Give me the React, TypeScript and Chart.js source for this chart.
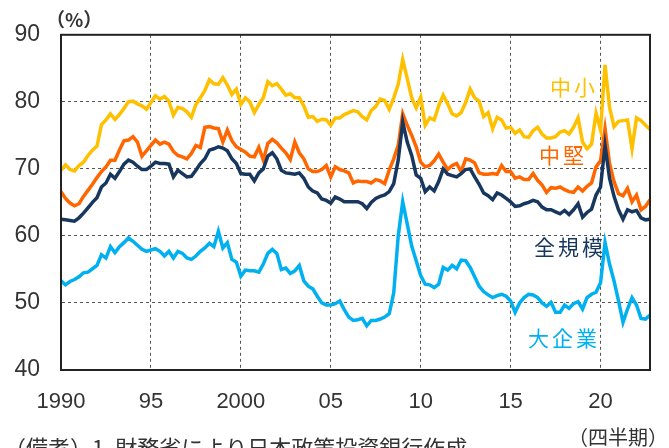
import React, { useEffect, useRef } from "react";
import { Chart, registerables } from "chart.js";

Chart.register(...registerables);

// Quarterly categories 1990Q1 .. 2022Q4
const years: number[] = [];
for (let y = 1990; y <= 2022; y++) years.push(y);
const quarters: string[] = [];
years.forEach((y) => ["Q1", "Q2", "Q3", "Q4"].forEach((q) => quarters.push(`${y}${q}`)));

const xTickLabels = ["1990", "95", "2000", "05", "10", "15", "20"];
const yTickValues = [40, 50, 60, 70, 80, 90];

const smeValues = [
  69.8, 70.6, 69.9, 69.7, 70.5, 71.0, 72.0, 72.8, 73.4, 76.6,
  77.3, 78.2, 77.4, 78.1, 79.0, 80.0, 80.1, 79.7, 79.4, 78.9,
  79.9, 80.9, 80.4, 80.8, 80.1, 78.0, 79.2, 79.0, 78.5, 77.7,
  79.6, 80.6, 81.7, 83.3, 82.7, 82.6, 83.6, 82.5, 81.1, 81.9,
  79.6, 80.6, 80.0, 78.4, 79.6, 80.6, 83.0, 82.4, 82.7, 81.9,
  81.0, 81.2, 80.6, 80.6, 79.4, 77.7, 77.8, 77.1, 77.4, 77.3,
  76.5, 77.6, 77.6, 78.1, 78.4, 78.7, 78.5, 77.8, 77.3, 78.7,
  79.3, 80.4, 80.2, 78.9, 80.6, 82.6, 86.3, 83.5, 80.6, 79.1,
  80.7, 76.5, 77.6, 77.3, 79.4, 81.0, 79.7, 78.2, 77.9, 78.4,
  79.9, 81.9, 80.6, 80.1, 77.8, 78.4, 76.0, 77.7, 77.3, 76.1,
  76.2, 75.3, 75.8, 74.8, 74.7, 75.7, 76.2, 75.2, 74.6, 74.6,
  74.8, 75.5, 75.7, 75.2, 76.2, 77.6, 74.0, 73.0, 73.7, 78.3,
  75.8, 85.5, 79.2, 76.3, 77.1, 77.2, 77.3, 73.0, 77.6, 77.2,
  76.5, 75.9,
];

const midValues = [
  66.6, 65.6, 64.9, 64.5, 64.8, 65.9, 66.8, 67.7, 68.7, 69.6,
  70.3, 71.3, 71.3, 72.8, 74.2, 74.3, 74.8, 74.0, 71.9, 72.7,
  73.5, 74.3, 73.7, 74.0, 73.7, 72.6, 72.0, 71.8, 71.5, 72.3,
  73.5, 73.2, 76.2, 76.3, 76.1, 76.0, 74.0, 75.8, 74.2, 73.3,
  72.9, 72.5, 71.9, 71.8, 73.2, 71.3, 73.8, 74.4, 73.9, 73.1,
  72.4, 71.4, 74.0, 72.4, 71.5, 70.0, 69.6, 69.6, 69.9, 70.5,
  68.8, 70.3, 69.9, 69.7, 69.4, 67.9, 68.2, 68.1, 68.1, 67.9,
  68.4, 68.2, 67.8, 69.8, 71.5, 73.5, 78.2, 76.5, 75.0, 73.3,
  71.0, 70.3, 70.5, 71.2, 72.2, 71.0, 69.9, 70.5, 70.8, 69.6,
  71.5, 71.3, 70.9, 69.4, 69.2, 69.2, 69.3, 69.2, 70.5, 69.6,
  69.6, 68.6, 68.8, 68.4, 68.4, 69.3, 68.3, 67.6, 66.5, 67.2,
  67.1, 67.3, 66.9, 66.6, 66.5, 67.3, 66.7, 67.4, 67.9, 70.3,
  71.2, 76.0, 70.8, 68.1, 66.3, 66.0, 67.1, 65.1, 66.1, 63.9,
  64.4, 65.4,
];

const allValues = [
  62.5, 62.4, 62.3, 62.2, 62.7, 63.4, 64.2, 65.0, 65.7, 67.3,
  67.9, 69.2, 68.6, 69.6, 70.7, 71.3, 71.0, 70.4, 69.9, 69.9,
  70.4, 71.0, 70.8, 70.8, 70.7, 68.8, 69.8, 69.3, 68.8, 68.9,
  69.8, 70.8, 71.5, 72.8, 73.0, 73.3, 73.1, 72.7, 71.5, 70.8,
  69.3, 69.2, 69.2, 68.2, 69.4, 70.0, 71.9, 72.4, 71.5, 69.8,
  69.4, 69.3, 69.2, 69.4, 68.6, 67.3, 66.7, 66.4, 65.5, 65.3,
  64.9, 65.8, 65.5, 65.1, 65.1, 65.1, 65.1, 64.8, 64.1, 65.0,
  65.6, 65.9, 66.1, 66.6, 67.8, 71.3, 77.0, 74.0, 72.0, 69.1,
  68.6, 66.6, 67.3, 66.7, 68.1, 70.0, 69.2, 69.0, 68.8, 69.3,
  69.9, 70.0, 68.8, 67.7, 66.4, 66.0, 65.4, 66.4, 66.1, 65.6,
  65.1, 64.4, 64.5, 64.8, 65.0, 65.3, 65.1, 64.3, 63.9, 63.9,
  63.6, 63.3, 63.8, 63.2, 63.9, 64.8, 62.8, 63.5, 64.0, 66.1,
  67.3, 73.5, 68.6, 65.9, 63.9, 62.5, 63.9, 63.6, 63.8, 62.7,
  62.4, 62.5,
];

const largeValues = [
  53.3, 52.7, 53.2, 53.5, 53.9, 54.5, 54.6, 55.1, 55.6, 57.2,
  56.7, 58.4, 57.5, 58.4, 59.0, 59.7, 59.2, 58.6, 58.0, 57.7,
  57.9, 58.1, 57.7, 57.0, 57.7, 56.7, 57.7, 57.4, 56.7, 56.5,
  57.0, 57.7, 58.2, 58.9, 58.4, 60.7, 58.2, 59.0, 56.5, 56.1,
  54.0, 54.9, 54.8, 54.8, 54.6, 55.8, 57.4, 58.0, 57.4, 55.0,
  55.2, 54.4, 54.8, 55.6, 53.3, 52.5, 52.1, 51.0, 50.0, 49.7,
  49.7, 49.9, 50.3, 49.0, 47.9, 47.4, 47.5, 47.7, 46.6, 47.4,
  47.4, 47.6, 47.9, 48.4, 51.5, 60.0, 65.1, 61.8, 58.5, 56.3,
  54.1, 52.8, 52.7, 52.3, 52.8, 55.3, 54.9, 55.6, 55.1, 56.4,
  56.3, 55.3, 53.9, 52.5, 51.7, 51.2, 50.8, 51.1, 51.3, 51.0,
  50.3, 48.6, 50.0, 50.8, 51.3, 51.2, 50.8, 50.0, 49.5, 50.1,
  48.6, 48.6, 49.7, 49.2, 49.9, 50.2, 49.1, 50.8, 51.3, 51.6,
  53.0, 59.0, 55.8, 53.3, 50.3, 47.1, 49.1, 50.8, 49.7, 47.7,
  47.6, 48.2,
];

const seriesNames = ["全規模", "中堅", "中小", "大企業"];
const seriesColors = ["#17375E", "#FF6600", "#FFC000", "#00B0F0"];

const NUM_FONT = "'Liberation Sans', Arial, sans-serif";
const JP_FONT = "'Noto Sans CJK JP', 'Noto Sans', sans-serif";

const overlayPlugin = {
  id: "overlay",
  afterDatasetsDraw(chart: any) {
    const { ctx, chartArea: a } = chart;
    ctx.save();
    ctx.strokeStyle = "#222";
    ctx.lineWidth = 2;
    ctx.strokeRect(a.left, a.top, a.right - a.left, a.bottom - a.top);

    ctx.textAlign = "center";
    ctx.textBaseline = "middle";
    ctx.font = `21px ${JP_FONT}`;
    try { (ctx as any).letterSpacing = "3px"; } catch (e) {}
    const labels: [string, string, number, number][] = [
      ["中小", seriesColors[2], 574, 87],
      ["中堅", seriesColors[1], 563, 155],
      ["全規模", seriesColors[0], 570, 247],
      ["大企業", seriesColors[3], 564, 338],
    ];
    labels.forEach(([t, c, x, y]) => {
      ctx.fillStyle = c;
      ctx.fillText(t, x, y);
    });
    try { (ctx as any).letterSpacing = "0px"; } catch (e) {}

    ctx.fillStyle = "#333";
    ctx.textAlign = "left";
    ctx.font = `bold 19px ${JP_FONT}`;
    ctx.fillText("（%）", 46, 20);

    ctx.textAlign = "right";
    ctx.font = `20px ${JP_FONT}`;
    ctx.fillText("（四半期）", 668, 437);

    ctx.textAlign = "left";
    ctx.textBaseline = "top";
    ctx.font = `22px ${JP_FONT}`;
    ctx.fillText("（備考）1. 財務省により日本政策投資銀行作成", 4, 437);
    ctx.restore();
  },
};

export default function App() {
  const ref = useRef<HTMLCanvasElement | null>(null);

  useEffect(() => {
    if (!ref.current) return;
    const dataArrays = [allValues, midValues, smeValues, largeValues];
    const chart = new Chart(ref.current, {
      type: "line",
      data: {
        labels: quarters,
        datasets: dataArrays.map((d, k) => ({
          label: seriesNames[k],
          data: d,
          borderColor: seriesColors[k],
          backgroundColor: seriesColors[k],
          borderWidth: 3.5,
          pointRadius: 0,
          tension: 0,
          fill: false,
        })),
      },
      options: {
        animation: false,
        responsive: false,
        maintainAspectRatio: false,
        layout: { padding: { top: 33, right: 9, left: 0, bottom: 0 } },
        plugins: { legend: { display: false }, tooltip: { enabled: false } },
        scales: {
          x: {
            type: "category",
            afterFit: (s: any) => { s.height = 78; },
            grid: {
              drawTicks: false,
              color: (c: any) => (c.index % 20 === 0 ? "#555" : "rgba(0,0,0,0)"),
              lineWidth: 1,
            },
            border: { display: true, color: "#222", width: 2, dash: [3, 3] },
            ticks: {
              autoSkip: false,
              maxRotation: 0,
              minRotation: 0,
              padding: 19,
              color: "#333",
              font: { family: NUM_FONT, size: 22 },
              callback: (_v: any, i: number) => (i % 20 === 0 ? xTickLabels[i / 20] ?? "" : ""),
            },
          },
          y: {
            min: yTickValues[0],
            max: yTickValues[yTickValues.length - 1],
            afterFit: (s: any) => { s.width = 61; },
            afterBuildTicks: (s: any) => { s.ticks = yTickValues.map((v) => ({ value: v })); },
            grid: { drawTicks: false, color: "#555", lineWidth: 1 },
            border: { display: true, color: "#222", width: 2, dash: [3, 3] },
            ticks: {
              padding: 21,
              color: "#333",
              font: { family: NUM_FONT, size: 23 },
            },
          },
        },
      },
      plugins: [overlayPlugin],
    });
    return () => chart.destroy();
  }, []);

  return (
    <div style={{ position: "absolute", left: 0, top: 0, width: 669, height: 448, overflow: "hidden", background: "#fff" }}>
      <canvas ref={ref} width={669} height={448} style={{ display: "block" }} />
    </div>
  );
}
